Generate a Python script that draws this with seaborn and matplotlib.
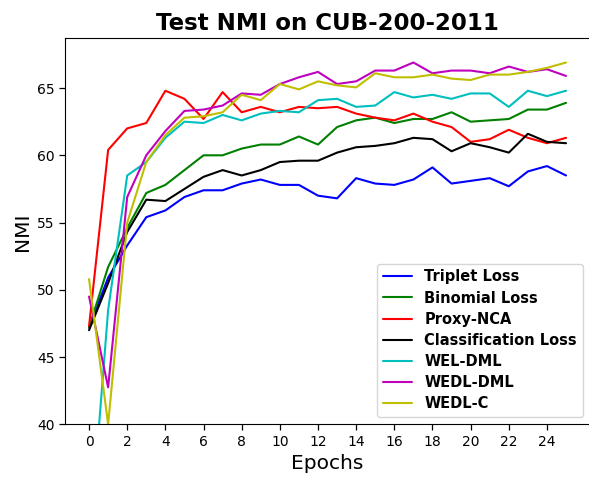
import numpy as np
import matplotlib
matplotlib.use("Agg")
import matplotlib.pyplot as plt
import seaborn as sns

# ==========================================
# DATA
# ==========================================
epochs = list(range(26))

triplet = [47.2, 50.9, 53.3, 55.4, 55.9, 56.9, 57.4, 57.4, 57.9, 58.2, 57.8, 57.8, 57.0,
           56.8, 58.3, 57.9, 57.8, 58.2, 59.1, 57.9, 58.1, 58.3, 57.7, 58.8, 59.2, 58.5]
binomial = [47.2, 51.7, 54.6, 57.2, 57.8, 58.9, 60.0, 60.0, 60.5, 60.8, 60.8, 61.4, 60.8,
            62.1, 62.6, 62.8, 62.4, 62.7, 62.7, 63.2, 62.5, 62.6, 62.7, 63.4, 63.4, 63.9]
proxy_nca = [47.3, 60.4, 62.0, 62.4, 64.8, 64.2, 62.7, 64.7, 63.2, 63.6, 63.2, 63.6, 63.5,
             63.6, 63.1, 62.8, 62.6, 63.1, 62.5, 62.1, 61.0, 61.2, 61.9, 61.3, 60.9, 61.3]
classification = [47.0, 50.5, 54.3, 56.7, 56.6, 57.5, 58.4, 58.9, 58.5, 58.9, 59.5, 59.6, 59.6,
                  60.2, 60.6, 60.7, 60.9, 61.3, 61.2, 60.3, 60.9, 60.6, 60.2, 61.6, 61.0, 60.9]
wel_dml = [30.5, 48.5, 58.5, 59.5, 61.3, 62.5, 62.4, 63.0, 62.6, 63.1, 63.3, 63.2, 64.1,
           64.2, 63.6, 63.7, 64.7, 64.3, 64.5, 64.2, 64.6, 64.6, 63.6, 64.8, 64.4, 64.8]
wedl_dml = [49.5, 42.75, 56.9, 60.0, 61.8, 63.3, 63.4, 63.7, 64.6, 64.5, 65.3, 65.8, 66.2,
            65.3, 65.5, 66.3, 66.3, 66.9, 66.1, 66.3, 66.3, 66.1, 66.6, 66.2, 66.4, 65.9]
wedl_c = [50.8, 40.0, 55.0, 59.5, 61.5, 62.8, 62.9, 63.2, 64.5, 64.1, 65.3, 64.9, 65.5,
          65.2, 65.05, 66.1, 65.8, 65.8, 66.0, 65.7, 65.6, 66.0, 66.0, 66.2, 66.5, 66.9]

names = ['Triplet Loss', 'Binomial Loss', 'Proxy-NCA', 'Classification Loss',
         'WEL-DML', 'WEDL-DML', 'WEDL-C']
series = [triplet, binomial, proxy_nca, classification, wel_dml, wedl_dml, wedl_c]
colors = ['b', 'g', 'r', 'k', 'c', 'm', 'y']

# ==========================================
# PLOT
# ==========================================
sns.set_style("ticks", {"axes.edgecolor": "black", "text.color": "black",
                        "xtick.color": "black", "ytick.color": "black",
                        "axes.labelcolor": "black"})
plt.rcParams['font.family'] = ['DejaVu Sans']

fig = plt.figure(figsize=(5.89, 4.78), dpi=100)
ax = fig.add_axes([0.1107, 0.1123, 0.8908, 0.8076])

for name, vals, c in zip(names, series, colors):
    sns.lineplot(x=epochs, y=vals, color=c, label=name, linewidth=1.5, ax=ax)

ax.set_xlim(-1.25, 26.25)
ax.set_ylim(40, 68.7)
ax.set_xticks(range(0, 25, 2))
ax.set_yticks(range(40, 66, 5))
ax.tick_params(labelsize=10, length=4, width=0.9)

ax.set_title('Test NMI on CUB-200-2011', fontsize=16.5, fontweight='bold')
ax.set_xlabel('Epochs', fontsize=14.5)
ax.set_ylabel('NMI', fontsize=14.5)

ax.legend(loc='lower right', prop={'weight': 'bold', 'size': 10.5}, labelspacing=0.42)

fig.savefig('out.png', dpi=100)
